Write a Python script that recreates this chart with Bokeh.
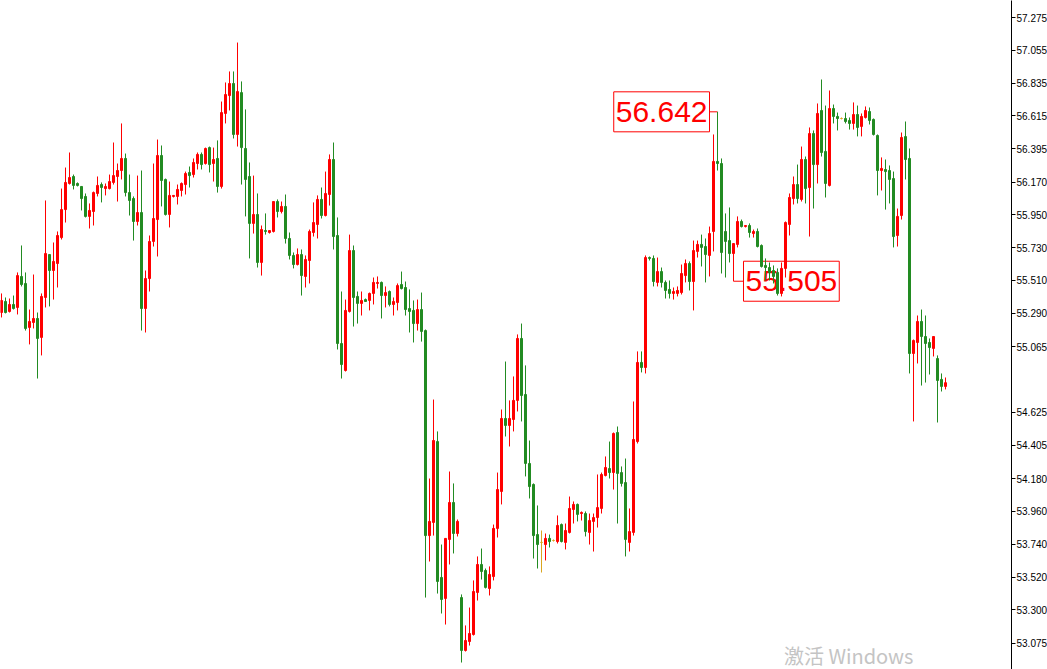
from bokeh.plotting import figure
from bokeh.models import Range1d, FixedTicker, NumeralTickFormatter, ColumnDataSource, Label
from bokeh.core.properties import value
from bokeh.embed import file_html
from bokeh.resources import INLINE

# ---- data ----
opens = [
    55.295, 55.369, 55.302, 55.349, 55.329, 55.537, 55.490, 55.195, 55.228, 55.255,
    55.128, 55.396, 55.684, 55.577, 55.624, 55.798, 55.986, 56.161, 56.208, 56.161,
    56.141, 56.074, 55.940, 55.973, 56.094, 56.154, 56.127, 56.127, 56.168, 56.208,
    56.248, 56.329, 56.100, 56.060, 55.906, 55.966, 55.322, 55.523, 55.772, 55.919,
    56.349, 56.188, 55.953, 56.074, 56.074, 56.114, 56.154, 56.235, 56.221, 56.295,
    56.356, 56.295, 56.402, 56.295, 56.329, 56.141, 56.631, 56.751, 56.832, 56.490,
    56.771, 56.396, 56.208, 55.893, 55.953, 55.631, 55.845, 55.832, 55.839, 56.040,
    55.973, 56.007, 55.792, 55.678, 55.617, 55.684, 55.537, 55.644, 55.832, 55.886,
    56.054, 55.946, 56.087, 56.322, 55.812, 55.087, 54.906, 55.302, 55.711, 55.403,
    55.356, 55.382, 55.376, 55.423, 55.490, 55.497, 55.409, 55.436, 55.349, 55.362,
    55.483, 55.463, 55.322, 55.309, 55.221, 55.315, 55.174, 53.798, 53.886, 54.429,
    53.517, 53.376, 53.772, 54.020, 53.812, 53.382, 53.027, 53.087, 53.134, 53.416,
    53.604, 53.564, 53.443, 53.523, 53.846, 54.094, 54.584, 54.537, 54.577, 54.705,
    55.121, 54.745, 54.282, 54.141, 53.805, 53.752, 53.738, 53.779, 53.765, 53.758,
    53.872, 53.752, 53.819, 53.973, 54.007, 53.946, 53.946, 53.819, 53.893, 53.919,
    53.980, 54.201, 54.248, 54.221, 54.490, 54.221, 54.154, 53.752, 53.819, 54.429,
    54.960, 54.926, 55.664, 55.658, 55.497, 55.570, 55.497, 55.450, 55.423, 55.423,
    55.429, 55.543, 55.624, 55.503, 55.705, 55.752, 55.738, 55.678, 55.839, 56.309,
    56.295, 55.839, 55.778, 55.691, 55.752, 55.906, 55.872, 55.879, 55.825, 55.839,
    55.745, 55.611, 55.597, 55.577, 55.564, 55.423, 55.591, 55.886, 56.060, 56.154,
    56.054, 56.322, 56.134, 56.496, 56.288, 56.651, 56.376, 56.148, 56.664, 56.611,
    56.597, 56.597, 56.584, 56.564, 56.624, 56.544, 56.604, 56.644, 56.591, 56.483,
    56.248, 56.255, 56.248, 56.194, 55.812, 55.946, 56.476, 56.329, 55.020, 55.094,
    55.235, 55.134, 55.094, 55.054, 54.986, 54.846, 54.799,
]
highs = [
    55.423, 55.396, 55.389, 55.409, 55.564, 55.745, 55.564, 55.315, 55.550, 55.295,
    55.423, 56.047, 55.684, 55.765, 55.839, 56.127, 56.268, 56.369, 56.221, 56.168,
    56.141, 56.094, 56.027, 56.107, 56.208, 56.168, 56.161, 56.221, 56.436, 56.295,
    56.564, 56.362, 56.221, 56.074, 56.214, 56.248, 55.577, 55.812, 56.295, 56.456,
    56.416, 56.194, 56.174, 56.081, 56.154, 56.168, 56.241, 56.275, 56.329, 56.369,
    56.369, 56.402, 56.409, 56.402, 56.450, 56.711, 56.839, 56.913, 56.913, 57.107,
    56.846, 56.658, 56.302, 56.214, 56.094, 55.879, 55.960, 55.845, 56.040, 56.054,
    56.040, 56.087, 55.832, 55.698, 55.725, 55.718, 55.678, 55.852, 56.034, 56.081,
    56.134, 56.241, 56.356, 56.436, 55.933, 55.436, 55.382, 55.818, 55.745, 55.436,
    55.436, 55.389, 55.429, 55.530, 55.537, 55.503, 55.470, 55.443, 55.396, 55.490,
    55.570, 55.503, 55.450, 55.376, 55.382, 55.429, 55.181, 54.181, 54.711, 54.497,
    53.738, 53.779, 54.228, 54.148, 53.906, 53.403, 53.195, 53.315, 53.497, 53.658,
    53.711, 53.577, 53.591, 53.872, 54.221, 54.644, 54.966, 54.705, 54.866, 55.148,
    55.221, 54.940, 54.436, 54.148, 54.000, 53.832, 53.812, 53.805, 53.772, 53.933,
    53.879, 53.879, 54.060, 54.027, 54.013, 53.960, 53.960, 53.946, 53.946, 54.208,
    54.221, 54.329, 54.429, 54.490, 54.530, 54.262, 54.315, 53.980, 54.698, 55.034,
    55.034, 55.678, 55.671, 55.678, 55.664, 55.597, 55.510, 55.510, 55.463, 55.470,
    55.617, 55.651, 55.638, 55.778, 55.778, 55.818, 55.792, 55.872, 56.490, 56.642,
    56.329, 55.960, 56.000, 55.758, 55.940, 55.919, 55.879, 55.893, 55.852, 55.859,
    55.752, 55.658, 55.631, 55.611, 55.591, 55.631, 55.906, 56.094, 56.208, 56.288,
    56.409, 56.342, 56.537, 56.517, 56.698, 56.859, 56.684, 56.785, 56.691, 56.637,
    56.604, 56.637, 56.604, 56.705, 56.684, 56.631, 56.678, 56.671, 56.597, 56.490,
    56.336, 56.322, 56.282, 56.241, 55.993, 56.503, 56.577, 56.396, 55.114, 55.275,
    55.315, 55.275, 55.121, 55.134, 55.007, 54.886, 54.859,
]
lows = [
    55.262, 55.289, 55.295, 55.315, 55.282, 55.470, 55.174, 55.081, 55.188, 54.852,
    55.007, 55.329, 55.336, 55.382, 55.463, 55.785, 55.899, 56.154, 56.121, 56.141,
    55.980, 55.933, 55.859, 55.879, 56.074, 56.034, 56.081, 56.121, 56.154, 56.040,
    56.188, 56.074, 55.946, 55.778, 55.879, 55.174, 55.161, 55.436, 55.738, 55.671,
    56.007, 55.946, 55.866, 56.067, 56.020, 56.074, 56.087, 56.134, 56.201, 56.255,
    56.255, 56.288, 56.235, 56.174, 56.100, 56.127, 56.564, 56.651, 56.463, 56.409,
    56.154, 55.940, 55.658, 55.825, 55.597, 55.543, 55.818, 55.825, 55.832, 55.933,
    55.960, 55.758, 55.651, 55.591, 55.611, 55.409, 55.463, 55.490, 55.805, 55.792,
    55.926, 55.940, 56.013, 55.718, 55.047, 54.852, 54.899, 55.295, 55.201, 55.221,
    55.275, 55.369, 55.309, 55.349, 55.456, 55.255, 55.329, 55.336, 55.275, 55.309,
    55.450, 55.275, 55.161, 55.094, 55.174, 55.100, 53.382, 53.624, 53.798, 53.409,
    53.275, 53.201, 53.604, 53.678, 53.792, 52.946, 53.020, 53.060, 53.127, 53.362,
    53.503, 53.443, 53.396, 53.497, 53.785, 54.007, 54.463, 54.396, 54.497, 54.631,
    54.564, 54.195, 54.047, 53.644, 53.577, 53.550, 53.631, 53.718, 53.758, 53.745,
    53.752, 53.705, 53.812, 53.879, 53.893, 53.899, 53.792, 53.738, 53.691, 53.852,
    53.946, 54.195, 54.181, 54.107, 53.879, 54.127, 53.658, 53.691, 53.798, 54.416,
    54.893, 54.886, 55.644, 55.470, 55.470, 55.463, 55.389, 55.389, 55.382, 55.403,
    55.416, 55.497, 55.443, 55.309, 55.664, 55.604, 55.497, 55.537, 55.705, 56.248,
    55.557, 55.530, 55.631, 55.505, 55.732, 55.866, 55.866, 55.798, 55.798, 55.732,
    55.597, 55.510, 55.510, 55.490, 55.409, 55.403, 55.530, 55.812, 56.020, 56.027,
    56.040, 56.027, 55.805, 55.993, 56.161, 56.342, 56.067, 56.141, 56.564, 56.517,
    56.591, 56.564, 56.523, 56.523, 56.477, 56.477, 56.597, 56.557, 56.483, 56.081,
    56.114, 55.986, 56.027, 55.732, 55.738, 55.919, 56.188, 54.886, 54.564, 54.953,
    54.805, 54.825, 54.879, 55.000, 54.557, 54.765, 54.779,
]
closes = [
    55.376, 55.295, 55.349, 55.322, 55.543, 55.483, 55.188, 55.235, 55.255, 55.121,
    55.403, 55.691, 55.577, 55.638, 55.812, 55.986, 56.168, 56.201, 56.148, 56.148,
    56.060, 55.940, 55.980, 56.100, 56.148, 56.134, 56.141, 56.174, 56.214, 56.248,
    56.329, 56.100, 56.047, 55.906, 55.966, 55.322, 55.523, 55.772, 55.926, 56.349,
    56.181, 55.953, 56.081, 56.081, 56.121, 56.161, 56.228, 56.214, 56.302, 56.356,
    56.288, 56.396, 56.288, 56.322, 56.141, 56.637, 56.758, 56.832, 56.490, 56.778,
    56.402, 56.188, 55.893, 55.953, 55.631, 55.852, 55.839, 55.845, 56.040, 55.973,
    56.007, 55.792, 55.678, 55.617, 55.684, 55.543, 55.651, 55.839, 55.899, 56.054,
    55.946, 56.094, 56.322, 55.805, 55.087, 54.946, 55.309, 55.711, 55.396, 55.356,
    55.376, 55.369, 55.423, 55.497, 55.497, 55.409, 55.429, 55.349, 55.369, 55.476,
    55.456, 55.315, 55.302, 55.221, 55.315, 55.168, 53.798, 53.893, 54.436, 53.490,
    53.369, 53.779, 54.020, 53.812, 53.893, 53.027, 53.094, 53.141, 53.423, 53.604,
    53.557, 53.450, 53.537, 53.846, 54.107, 54.584, 54.537, 54.584, 54.705, 55.121,
    54.738, 54.282, 54.127, 53.798, 53.738, 53.752, 53.779, 53.758, 53.765, 53.866,
    53.758, 53.832, 53.980, 54.007, 53.940, 53.953, 53.825, 53.899, 53.919, 53.986,
    54.208, 54.255, 54.221, 54.483, 54.215, 54.148, 53.772, 53.825, 54.443, 54.960,
    54.926, 55.664, 55.658, 55.503, 55.570, 55.497, 55.443, 55.423, 55.436, 55.443,
    55.557, 55.624, 55.503, 55.711, 55.752, 55.732, 55.684, 55.825, 56.309, 56.295,
    55.698, 55.772, 55.691, 55.758, 55.906, 55.872, 55.879, 55.832, 55.839, 55.738,
    55.604, 55.597, 55.564, 55.537, 55.423, 55.591, 55.899, 56.067, 56.154, 56.060,
    56.322, 56.127, 56.496, 56.288, 56.631, 56.369, 56.161, 56.664, 56.611, 56.597,
    56.597, 56.577, 56.564, 56.624, 56.537, 56.611, 56.651, 56.584, 56.490, 56.248,
    56.262, 56.241, 56.188, 55.805, 55.940, 56.470, 56.322, 55.020, 55.107, 55.235,
    55.134, 55.087, 55.060, 55.134, 54.839, 54.799, 54.824,
]

tick_values = [57.275, 57.055, 56.835, 56.615, 56.395, 56.170, 55.950, 55.730, 55.510,
               55.290, 55.065, 54.625, 54.405, 54.180, 53.960, 53.740, 53.520, 53.300, 53.075]
last_price = 54.824
marked_high_index = 179
marked_high = 56.642
marked_low_index = 183
marked_low = 55.505
watermark = "激活 Windows"

UP = "#ff0000"
DOWN = "#228b22"
FLAT = "#daa520"

n = min(len(opens), len(highs), len(lows), len(closes))
xs = list(range(n))
colors = []
tops = []
bottoms = []
for i in range(n):
    o, c = opens[i], closes[i]
    colors.append(UP if c > o else (DOWN if c < o else FLAT))
    tops.append(max(o, c))
    bottoms.append(min(o, c))

src = ColumnDataSource(dict(x=xs, open=opens[:n], high=highs[:n], low=lows[:n],
                            close=closes[:n], top=tops, bottom=bottoms, color=colors))

FRAME_W = 1011
x_start = -0.25
x_end = x_start + FRAME_W / 4.0
y_bottom = 52.8992
y_top = 57.3891

p = figure(frame_width=FRAME_W, frame_height=669,
           x_range=Range1d(x_start, x_end),
           y_range=Range1d(y_bottom, y_top),
           x_axis_location=None, y_axis_location="right",
           toolbar_location=None, output_backend="svg",
           min_border_left=0, min_border_top=0, min_border_bottom=0, min_border_right=0,
           background_fill_color="white", border_fill_color="white",
           outline_line_color=None)
p.grid.visible = False

ax = p.yaxis[0]
ax.ticker = FixedTicker(ticks=tick_values)
ax.formatter = NumeralTickFormatter(format="0.000")
ax.axis_line_color = "black"
ax.axis_line_width = 1
ax.major_tick_out = 4
ax.major_tick_in = 0
ax.major_tick_line_color = "black"
ax.minor_tick_out = 0
ax.minor_tick_in = 0
ax.major_label_standoff = 1
ax.major_label_text_font = "Liberation Sans"
ax.major_label_text_font_size = "10px"
ax.major_label_text_color = "black"

# annotation boxes (drawn below the candles)
p.text(x=[marked_high_index - 2], y=[marked_high], text=[f"{marked_high:.3f}"],
       text_align="right", text_baseline="middle",
       text_font=value("Liberation Sans"), text_font_size="30px", text_color=UP,
       background_fill_color="white", border_line_color=UP, border_line_width=1,
       padding=(2, 10))
p.text(x=[marked_low_index + 2.5], y=[marked_low], text=[f"{marked_low:.3f}"],
       text_align="left", text_baseline="middle",
       text_font=value("Liberation Sans"), text_font_size="30px", text_color=UP,
       background_fill_color="white", border_line_color=UP, border_line_width=1,
       padding=(2, 10))
p.segment(x0=[marked_high_index - 2, marked_low_index], y0=[marked_high, marked_low],
          x1=[marked_high_index, marked_low_index + 2.5], y1=[marked_high, marked_low],
          line_color=UP, line_width=1)

# candles
p.segment(x0="x", y0="low", x1="x", y1="high", source=src, line_color="color", line_width=1)
p.vbar(x="x", width=0.5, top="top", bottom="bottom", source=src,
       fill_color="color", line_color="color", line_width=1)

# current price marker on the axis
p.add_layout(Label(x=x_end, y=last_price, text=f"{last_price:.3f}",
                   x_offset=3, text_align="left", text_baseline="middle",
                   text_font="Liberation Sans", text_font_size="10px", text_color="white",
                   background_fill_color="black", padding=1))

# watermark
p.add_layout(Label(x=195.6, y=y_bottom, text=watermark, text_align="left",
                   text_baseline="bottom", text_font="Noto Sans CJK SC",
                   text_font_size="20px", text_color="#c4c4c4"))

open("out.html", "w").write(file_html(p, INLINE))
